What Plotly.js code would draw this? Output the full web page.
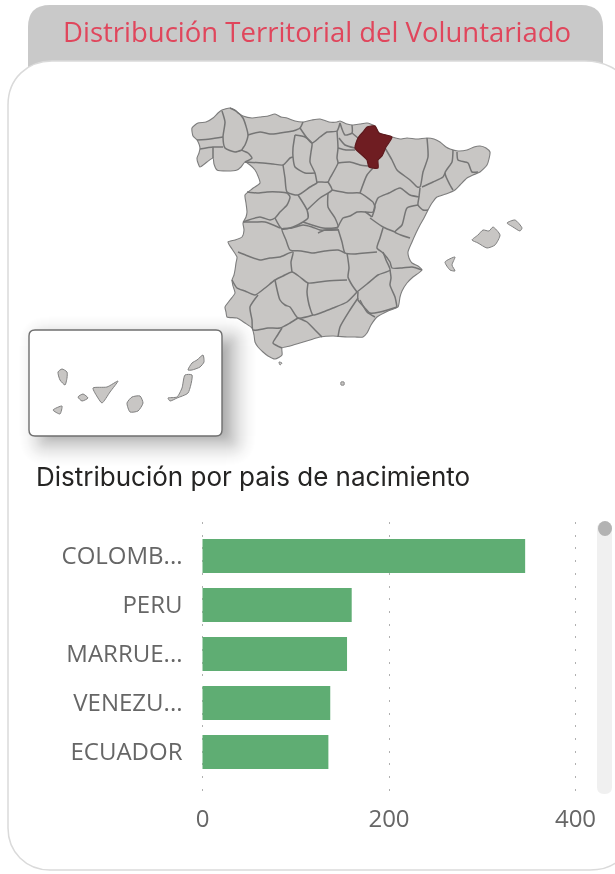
<!DOCTYPE html>
<html><head><meta charset="utf-8">
<script src="https://cdn.plot.ly/plotly-3.0.1.min.js"></script>
<style>html,body{margin:0;padding:0;background:#fff;overflow:hidden}#chart{width:615px;height:874px;filter:blur(0.65px)}</style>
</head><body><div id="chart"></div>
<script>
// Bar chart data
const paises = ["COLOMB...", "PERU", "MARRUE...", "VENEZU...", "ECUADOR"];
const voluntarios = [346, 160, 155, 137, 135];
const ticksX = [0, 200, 400];

// Map geometry: [x, y] vertices on the map plane
const peninsula = [[192,128],[198,123],[206,122],[213,118],[218,113],[222,110],[230,108],[236,111],[238,113],[243,116],[252,118],[260,117],[268,116],[275,114],[281,117],[287,118],[295,121],[303,122],[312,120],[320,119],[329,122],[337,122],[340,121],[347,124],[353,125],[360,124],[367,123],[375,126],[379,133],[392,137],[400,139],[407,138],[417,139],[427,138],[434,139],[440,142],[446,147],[450,149],[458,151],[467,150],[474,147],[480,146],[486,148],[490,152],[489,159],[487,165],[480,172],[473,175],[467,178],[460,185],[455,190],[446,194],[437,197],[432,203],[428,210],[424,218],[420,225],[416,233],[412,242],[408,252],[409,258],[412,263],[418,266],[422,270],[413,277],[407,283],[402,291],[400,297],[398,307],[388,311],[377,317],[371,325],[367,333],[363,337],[355,337],[347,337],[333,336],[320,337],[310,340],[300,343],[290,346],[282,348],[282,355],[275,359],[268,356],[263,352],[258,347],[255,342],[254,335],[252,328],[245,323],[237,318],[227,317],[226,312],[225,307],[230,300],[235,293],[233,286],[232,280],[234,275],[235,270],[236,263],[237,257],[232,249],[228,242],[235,240],[242,237],[244,230],[243,223],[246,217],[247,212],[246,203],[245,195],[252,189],[260,183],[258,176],[255,170],[250,165],[245,162],[241,167],[237,170],[227,171],[217,170],[214,164],[213,158],[207,162],[200,167],[198,163],[197,158],[199,153],[200,148],[199,144],[197,140],[193,136]];
const navarra = [[367,127],[375,126],[379,133],[392,137],[386,147],[382,156],[378,160],[378,168],[369,167],[367,160],[362,155],[355,148],[358,138],[363,132]];
const mallorca = [[472,240],[478,235],[483,230],[489,231],[493,227],[500,235],[495,245],[487,248],[478,243]];
const menorca = [[507,223],[515,220],[522,228],[520,231],[513,227]];
const ibiza = [[445,262],[455,257],[452,265],[455,271],[450,270]];
const ceuta = [[279,362],[282,363],[280,365]];
const melilla = [[341,382],[344,382],[344,385],[341,385]];
const laPalma = [[58,372],[62,369],[67,372],[67,378],[65,385],[60,380]];
const elHierro = [[53,410],[62,406],[60,414]];
const laGomera = [[78,397],[83,394],[88,398],[82,401]];
const tenerife = [[93,388],[107,387],[118,381],[110,392],[102,403],[98,398]];
const granCanaria = [[127,403],[132,397],[140,396],[143,403],[138,411],[130,412]];
const fuerteventura = [[168,398],[177,397],[182,388],[185,375],[192,375],[188,393],[177,398],[170,401]];
const lanzarote = [[188,370],[192,363],[197,360],[203,355],[204,362],[200,367],[192,370]];

// Province boundaries
const fronteras = [
 [[222,111],[225,122],[223,137],[225,148],[235,152],[242,150]],
 [[230,108],[236,111],[243,118],[248,135],[245,145],[242,150],[248,153],[252,158],[245,162]],
 [[197,140],[210,139],[223,137]],
 [[200,149],[213,147],[223,147]],
 [[213,147],[213,158]],
 [[248,135],[260,132],[270,134],[280,133],[293,131],[300,128],[303,122]],
 [[300,128],[312,143],[320,137],[327,132],[337,131],[340,123]],
 [[295,135],[305,137],[312,143],[311,152],[310,162],[315,173],[317,183]],
 [[295,135],[293,148],[293,157],[295,167],[305,173],[315,173]],
 [[337,131],[338,148],[337,158],[338,163],[330,178],[328,182],[318,182],[317,183]],
 [[245,162],[263,163],[273,164],[283,165],[290,158],[293,157]],
 [[283,165],[285,178],[287,192],[298,195],[310,187],[317,183]],
 [[247,192],[257,193],[267,192],[278,192],[287,193],[290,197],[287,205],[280,212],[275,218],[270,220],[260,217],[243,222]],
 [[298,195],[307,210],[308,218],[303,222],[293,227],[282,229],[275,218]],
 [[328,182],[332,190],[320,198],[307,210]],
 [[338,148],[346,150],[355,150]],
 [[338,163],[350,162],[360,165],[368,166]],
 [[340,123],[345,135],[352,133],[352,125]],
 [[352,133],[358,138]],
 [[339,138],[345,145],[355,148]],
 [[332,190],[348,193],[360,193],[373,202]],
 [[360,193],[367,175],[373,168]],
 [[328,193],[328,207],[335,218],[338,227],[323,228],[303,222]],
 [[318,233],[325,230],[338,229]],
 [[338,227],[343,218],[350,216],[357,212],[365,212],[372,217]],
 [[373,202],[375,207],[372,217]],
 [[385,148],[392,160],[397,170],[410,180],[417,187]],
 [[427,138],[428,157],[423,172],[420,187],[417,187]],
 [[453,150],[452,162],[445,173],[450,185],[453,190]],
 [[422,187],[433,182],[443,177],[445,173]],
 [[457,152],[458,160],[468,163],[472,172],[478,172]],
 [[420,188],[419,197],[418,205],[423,210],[428,210]],
 [[419,197],[410,195],[400,188],[389,193],[378,198],[375,205],[373,212],[365,212]],
 [[418,205],[407,208],[402,225],[395,232],[410,238]],
 [[395,232],[383,227],[370,218]],
 [[383,228],[380,238],[377,248],[383,253],[390,262],[392,268],[402,268],[412,267],[422,270]],
 [[338,229],[342,242],[345,253],[355,254],[365,253],[377,252]],
 [[338,230],[320,230],[312,227],[303,225],[292,228],[282,229],[286,240],[290,250],[301,251],[313,253],[325,251],[338,250],[345,253]],
 [[243,222],[255,222],[265,222],[280,228]],
 [[238,252],[248,256],[260,260],[270,258],[280,257],[293,252],[291,262],[292,272]],
 [[232,280],[237,288],[245,291],[255,295],[265,288],[275,280],[283,276],[292,272],[300,277],[308,283],[327,281],[347,280]],
 [[347,253],[349,268],[348,277],[352,285],[357,292]],
 [[357,292],[367,284],[378,275],[390,270],[386,260],[383,252]],
 [[358,292],[358,300],[364,307],[370,313],[380,312],[397,307]],
 [[390,270],[391,278],[390,285],[395,297],[397,307]],
 [[308,283],[307,292],[308,300],[310,308],[313,315],[323,312],[333,308],[347,302],[357,292]],
 [[275,280],[280,300],[285,305],[290,307],[298,318],[313,315]],
 [[258,295],[250,307],[252,320],[253,330],[268,328],[280,328],[290,323],[298,318]],
 [[282,328],[277,336],[273,343],[282,348]],
 [[298,318],[307,322],[315,330],[322,337]],
 [[358,298],[350,310],[340,327],[338,337]],
 [[360,300],[367,312],[375,317]]
];

// Text
const tituloPanel = "Distribución Territorial del Voluntariado";
const tituloBarras = "Distribución por pais de nacimiento";

const FILL = "#c8c6c4", EDGE = "#757575", RED = "#6f1d22";
const xs = a => a.map(p => p[0]), ys = a => a.map(p => p[1]);
function area(p, color, lw, edge) {
  const c = p.concat([p[0]]);
  return {type:"scatter", mode:"lines", x:xs(c), y:ys(c), xaxis:"x", yaxis:"y", fill:"toself",
    fillcolor:color, line:{color:edge||"#7d7d7d", width:lw===undefined?1.1:lw, shape:"spline", smoothing:0.6}, hoverinfo:"skip", showlegend:false};
}
const traces = [];
traces.push(area(peninsula, FILL));
fronteras.forEach(f => traces.push({type:"scatter", mode:"lines", x:xs(f), y:ys(f), xaxis:"x", yaxis:"y",
  line:{color:EDGE, width:1.5, shape:"spline", smoothing:0.6}, hoverinfo:"skip", showlegend:false}));
traces.push(area(navarra, RED, 1.2, "#5e1a1e"));
[mallorca, menorca, ibiza, ceuta, melilla, laPalma, elHierro, laGomera, tenerife, granCanaria, fuerteventura, lanzarote]
  .forEach(p => traces.push(area(p, FILL, 1, "#808080")));
traces.push({type:"bar", orientation:"h", x:voluntarios, y:paises, xaxis:"x2", yaxis:"y2",
  marker:{color:"#5fad73"}, width:0.69, hoverinfo:"skip", showlegend:false});

function rr(x0,y0,x1,y1,r){
  return `M${x0+r} ${y0}H${x1-r}Q${x1} ${y0} ${x1} ${y0+r}V${y1-r}Q${x1} ${y1} ${x1-r} ${y1}H${x0+r}Q${x0} ${y1} ${x0} ${y1-r}V${y0+r}Q${x0} ${y0} ${x0+r} ${y0}Z`;
}
const sh = (path, fill, lc, lw) => ({type:"path", xref:"x", yref:"y", layer:"below", path,
  fillcolor:fill, line:{color:lc||"rgba(0,0,0,0)", width:lw||0}});
const shapes = [];
shapes.push(sh("M28 80V27Q28 5 50 5H581Q603 5 603 27V80Z", "#c9c9c9"));
shapes.push(sh("M8 105C8 78 28 61 52 61H585C605 61 620 70 628 82V845Q620 870 590 870H50C26 870 8 852 8 828Z", "#ffffff", "#dadada", 1.5));
for (let i = 24; i >= -12; i--) {
  const t = 1 - (i + 12) / 36;
  shapes.push(sh(rr(29+12-i, 330+8-i, 222+12+i, 436+8+i, 8+Math.max(i,0)), `rgba(0,0,0,${(0.001+0.018*t).toFixed(4)})`));
}
shapes.push(sh(rr(29,330,222,436,6), "#ffffff", "#6f6f6f", 1.4));
shapes.push(sh(rr(597,522,612,794,7), "#f0f0f0"));
shapes.push({type:"circle", xref:"x", yref:"y", layer:"below", x0:598, x1:612, y0:521, y1:536, fillcolor:"#b3b3b3", line:{width:0}});

const pad = 2;
const unit = 373 / 400;
const layout = {
  width:615, height:874, margin:{l:0,r:0,t:0,b:0}, paper_bgcolor:"#fff", plot_bgcolor:"rgba(0,0,0,0)",
  xaxis:{range:[0,615], domain:[0,1], visible:false, fixedrange:true},
  yaxis:{range:[874,0], domain:[0,1], visible:false, fixedrange:true},
  xaxis2:{domain:[(202.5-pad)/615,(575.5+pad)/615], range:[-pad/unit,400+pad/unit], anchor:"y2", tickvals:ticksX, showline:false, zeroline:false,
    showgrid:true, gridcolor:"#b0b0b0", griddash:"2px,10.7px", gridwidth:1, ticks:"", ticklabelstandoff:9,
    tickfont:{family:"'Open Sans',sans-serif", size:24, color:"#666666"}, fixedrange:true},
  yaxis2:{domain:[1-793/874,1-522/874], range:[4.837,-0.694], anchor:"x2", type:"category", categoryorder:"array", categoryarray:paises,
    showline:false, showgrid:false, zeroline:false, ticks:"", ticklabelstandoff:17,
    tickfont:{family:"'Open Sans',sans-serif", size:24, color:"#666666"}, fixedrange:true},
  bargap:0.31,
  shapes,
  annotations:[
    {text:tituloPanel, xref:"x", yref:"y", x:317, y:31, showarrow:false, xanchor:"center", yanchor:"middle",
     font:{family:"'Open Sans',sans-serif", size:27.5, color:"#e0465c"}},
    {text:tituloBarras, xref:"x", yref:"y", x:34, y:476, showarrow:false, xanchor:"left", yanchor:"middle",
     font:{family:"Inter,sans-serif", size:26, color:"#252423"}}
  ]
};
Plotly.newPlot("chart", traces, layout, {staticPlot:true, displayModeBar:false});
</script></body></html>
